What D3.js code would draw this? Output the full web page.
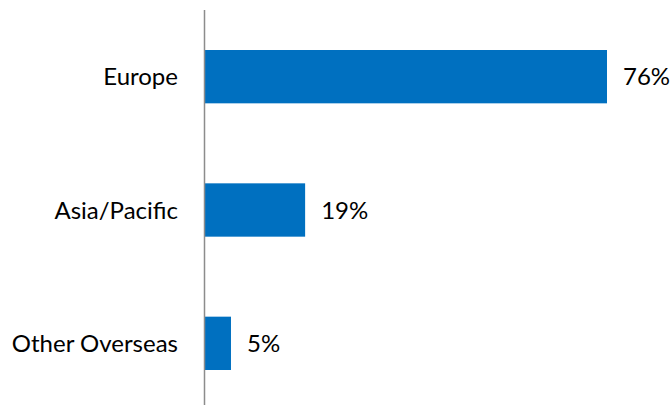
<!DOCTYPE html>
<html>
<head>
<meta charset="utf-8">
<script src="https://cdn.jsdelivr.net/npm/d3@7"></script>
<style>
  html, body { margin: 0; padding: 0; background: #fff; }
  svg text { font-family: Lato, "Open Sans", sans-serif; fill: #000; }
</style>
</head>
<body>
<svg id="chart" width="670" height="405"></svg>
<script>
// Regional share of revenue
const categories = ["Europe", "Asia/Pacific", "Other Overseas"];
const shares = [76, 19, 5];

const svg = d3.select("#chart");
const x0 = 204.5;

const x = d3.scaleLinear().domain([0, 76]).range([x0, 607]);
const y = d3.scaleBand()
  .domain(categories)
  .range([10, 410])
  .paddingInner(0.6)
  .paddingOuter(0.3);

// bars
svg.selectAll("rect.bar")
  .data(categories)
  .join("rect")
  .attr("class", "bar")
  .attr("x", x(0))
  .attr("y", d => y(d))
  .attr("width", (d, i) => x(shares[i]) - x(0))
  .attr("height", y.bandwidth())
  .attr("fill", "#0070C0");

// category axis line
svg.append("line")
  .attr("x1", x0).attr("x2", x0)
  .attr("y1", 10).attr("y2", 405)
  .attr("stroke", "#8c8c8c")
  .attr("stroke-width", 1.5);

// category labels
svg.selectAll("text.cat")
  .data(categories)
  .join("text")
  .attr("class", "cat")
  .attr("x", 178)
  .attr("y", d => y(d) + y.bandwidth() / 2)
  .attr("dy", "0.36em")
  .attr("text-anchor", "end")
  .style("font-size", "24px")
  .text(d => d);

// value labels
svg.selectAll("text.val")
  .data(categories)
  .join("text")
  .attr("class", "val")
  .attr("x", (d, i) => x(shares[i]) + 16)
  .attr("y", d => y(d) + y.bandwidth() / 2)
  .attr("dy", "0.36em")
  .style("font-size", "24px")
  .text((d, i) => shares[i] + "%");
</script>
</body>
</html>
